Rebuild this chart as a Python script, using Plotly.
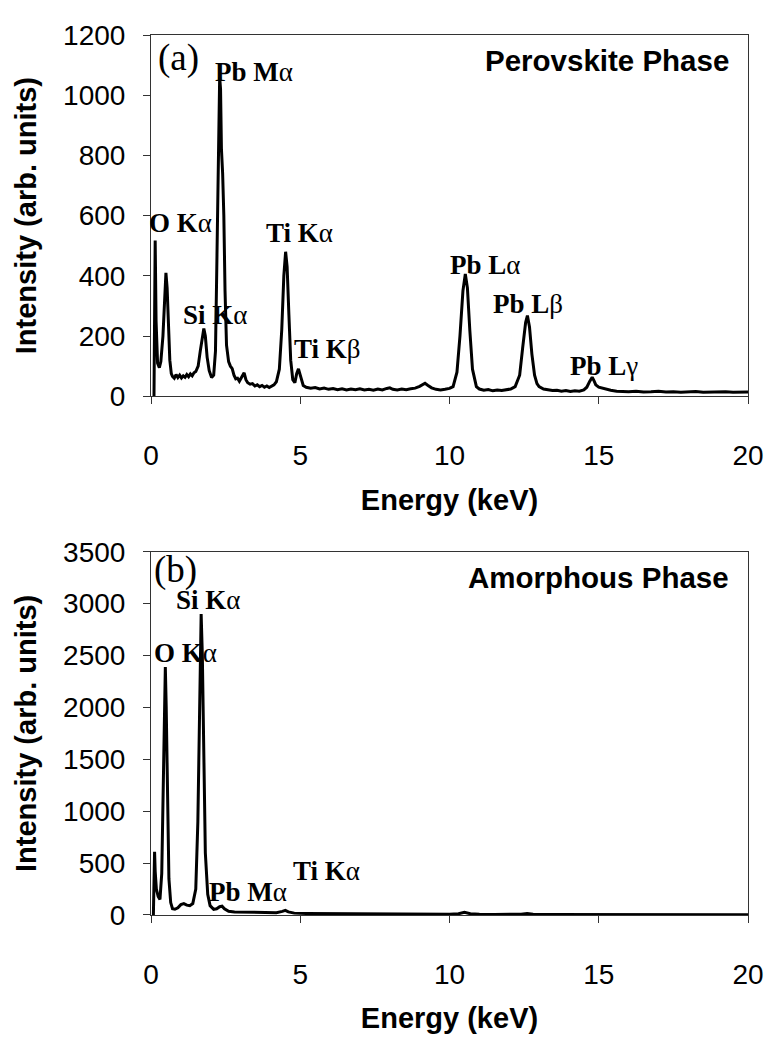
import plotly.graph_objects as go

# ---------------- data ----------------
energy_a = [0.10, 0.12, 0.14, 0.17, 0.22, 0.28, 0.33, 0.40, 0.46, 0.50, 0.54, 0.58, 0.63, 0.68,
            0.72, 0.78, 0.84, 0.90, 0.96, 1.02, 1.08, 1.14, 1.20, 1.26, 1.32, 1.38, 1.44, 1.50,
            1.58, 1.65, 1.72, 1.77, 1.82, 1.88, 1.95, 2.03, 2.10, 2.16, 2.20, 2.25, 2.30, 2.33,
            2.36, 2.40, 2.44, 2.48, 2.53,
            2.60, 2.66, 2.72, 2.78, 2.84, 2.90, 2.96, 3.02, 3.08, 3.12, 3.18, 3.24, 3.32, 3.40,
            3.48, 3.56, 3.64, 3.72, 3.80, 3.88, 3.96, 4.04, 4.12, 4.20,
            4.30, 4.38, 4.45, 4.51, 4.56, 4.62, 4.68, 4.75, 4.82, 4.88, 4.94, 5.00,
            5.10, 5.20, 5.35, 5.50, 5.65, 5.80, 5.95, 6.10, 6.25, 6.40, 6.55, 6.70, 6.85, 7.00,
            7.15, 7.30, 7.45, 7.60, 7.75, 7.90, 8.00, 8.10, 8.25, 8.40, 8.55, 8.70, 8.85, 9.00,
            9.10, 9.18, 9.28, 9.40, 9.55, 9.70, 9.85, 10.00, 10.12,
            10.25, 10.35, 10.45, 10.53, 10.60, 10.68, 10.77,
            10.90, 11.00, 11.15, 11.30, 11.45, 11.60, 11.75, 11.90, 12.05, 12.20,
            12.35, 12.45, 12.55, 12.61, 12.68, 12.76, 12.85, 12.93,
            13.00, 13.15, 13.30, 13.45, 13.60, 13.75, 13.90, 14.05, 14.20, 14.35, 14.50, 14.60,
            14.70, 14.78, 14.84, 14.90, 15.00, 15.10, 15.25, 15.40, 15.60, 15.80, 16.00, 16.25,
            16.50, 16.75, 17.00, 17.25, 17.50, 17.75, 18.00, 18.25, 18.50, 18.75, 19.00, 19.25,
            19.50, 19.75, 20.00]
intensity_a = [0, 300, 517, 250, 110, 95, 115, 200, 330, 410, 360, 220, 120, 75,
               66, 60, 72, 62, 70, 61, 68, 63, 72, 65, 74, 68, 78, 82,
               100, 150, 205, 225, 200, 130, 85, 62, 70, 150, 400, 800, 1060, 1020,
               820, 740, 600, 350, 170,
               115, 100, 92, 70, 58, 60, 50, 62, 72, 78, 55, 45, 40, 42,
               34, 38, 32, 36, 30, 34, 29, 35, 38, 48,
               90, 220, 400, 480, 430, 270, 120, 55, 45, 75, 91, 70,
               36, 30, 27, 29, 24, 27, 23, 26, 22, 25, 21, 24, 22, 25,
               21, 23, 20, 24, 21, 26, 28, 23, 21, 24, 22, 25, 27, 33,
               40, 43, 36, 28, 23, 21, 23, 26, 32,
               80, 200, 350, 406, 360, 220, 90,
               32, 24, 20, 22, 18, 21, 19, 22, 24, 32,
               70, 160, 245, 268, 230, 140, 70, 42,
               32, 24, 21, 19, 20, 17, 19, 16, 18, 17, 21, 30,
               50, 63, 52, 38, 30, 27, 23, 20, 17, 16, 15, 17,
               14, 15, 17, 14, 15, 13, 14, 16, 13, 14, 13, 15,
               13, 14, 14]

energy_b = [0.08, 0.10, 0.12, 0.14, 0.18, 0.24, 0.30, 0.36, 0.41, 0.45, 0.48, 0.51, 0.55, 0.60,
            0.66, 0.72, 0.80, 0.90, 1.00, 1.10, 1.20, 1.30, 1.40, 1.50, 1.57, 1.63, 1.68, 1.72,
            1.76, 1.82, 1.90, 1.98, 2.10, 2.20, 2.30, 2.38, 2.46, 2.60, 2.80, 3.00, 3.30, 3.60,
            3.90, 4.20, 4.40, 4.50, 4.60, 4.80, 5.20, 5.60, 6.00, 6.50, 7.00, 7.50, 8.00, 8.50,
            9.00, 9.50, 10.00, 10.30, 10.50, 10.70, 11.00, 11.50, 12.00, 12.40, 12.60, 12.80,
            13.20, 14.00, 15.00, 16.00, 17.00, 18.00, 19.00, 20.00]
intensity_b = [0, 350, 610, 420, 250, 180, 150, 400, 1200, 2100, 2390, 2000, 1000, 350,
               120, 60, 55, 70, 100, 110, 95, 90, 110, 250, 900, 2100, 2900, 2500,
               1500, 600, 200, 90, 55, 60, 80, 85, 60, 35, 30, 28, 25, 22,
               20, 22, 35, 45, 30, 18, 15, 14, 12, 12, 10, 10, 9, 9,
               9, 8, 8, 12, 25, 12, 7, 6, 6, 8, 15, 8,
               6, 5, 5, 4, 4, 4, 3, 3]

x_ticks = [0, 5, 10, 15, 20]
y_ticks_a = [0, 200, 400, 600, 800, 1000, 1200]
y_ticks_b = [0, 500, 1000, 1500, 2000, 2500, 3000, 3500]

# peak labels: (text, x, y, xshift)
labels_a = [("Pb M", 2.08, 1076, 0), ("O K", 0.0, 575, -4), ("Si K", 1.02, 271, 0),
            ("Ti K", 3.80, 543, 0), ("Ti K", 4.73, 157, 0), ("Pb L", 9.95, 435, 0),
            ("Pb L", 11.40, 307, 0), ("Pb L", 13.98, 101, 0)]
greek_a = ["α", "α", "α", "α", "β", "α", "β", "γ"]
labels_b = [("Si K", 0.78, 3037, 0), ("O K", 0.02, 2524, 0), ("Pb M", 1.87, 222, 0),
            ("Ti K", 4.70, 420, 0)]
greek_b = ["α", "α", "α", "α"]

# ---------------- figure ----------------
# page body has an 8px margin; figure placed at (8, 8) in the 776x1041 window
OFF = 8
W, H = 776 - OFF, 1041 - OFF
left_px, right_px, top_px, bottom_px = 151, 757, 29, 923   # plot area in window pixels
ml = left_px - OFF
mr = W - (right_px - OFF)
mt = top_px - OFF
mb = H - (bottom_px - OFF)
ph = H - mt - mb
top_dom = [(bottom_px - 396) / ph, 1.0]
bot_dom = [0.0, (bottom_px - 554) / ph]

fig = go.Figure()
line = dict(color="black", width=3)
fig.add_trace(go.Scatter(x=energy_a, y=intensity_a, mode="lines", line=line,
                         xaxis="x", yaxis="y", showlegend=False))
fig.add_trace(go.Scatter(x=energy_b, y=intensity_b, mode="lines", line=line,
                         xaxis="x2", yaxis="y2", showlegend=False))

tickfont = dict(family="Liberation Sans, Arial", size=28, color="black")
titlefont = dict(family="Liberation Sans, Arial", size=29, color="black")

common_x = dict(range=[0, 20], tickvals=x_ticks, ticks="outside", ticklen=7, tickwidth=1,
                tickcolor="#333", showline=True, linecolor="#333", linewidth=1, mirror=True,
                showgrid=False, zeroline=False, tickfont=tickfont, ticklabelstandoff=27)
common_y = dict(ticks="outside", ticklen=7, tickwidth=1, tickcolor="#333",
                showline=True, linecolor="#333", linewidth=1, mirror=True,
                showgrid=False, zeroline=False, tickfont=tickfont, ticklabelstandoff=12)

fig.update_layout(
    width=W, height=H,
    margin=dict(l=ml, r=mr, t=mt, b=mb),
    paper_bgcolor="white", plot_bgcolor="white",
    xaxis=dict(common_x, domain=[0, 1], anchor="y",
               title=dict(text="<b>Energy (keV)</b>", font=titlefont, standoff=19)),
    yaxis=dict(common_y, domain=top_dom, anchor="x", range=[0, 1200], tickvals=y_ticks_a,
               title=dict(text="<b>Intensity (arb. units)</b>", font=titlefont, standoff=17)),
    xaxis2=dict(common_x, domain=[0, 1], anchor="y2",
                title=dict(text="<b>Energy (keV)</b>", font=titlefont, standoff=19)),
    yaxis2=dict(common_y, domain=bot_dom, anchor="x2", range=[0, 3500], tickvals=y_ticks_b,
                title=dict(text="<b>Intensity (arb. units)</b>", font=titlefont, standoff=17)),
)

serif = dict(family="Liberation Serif, Times New Roman", size=27, color="black")

def add_labels(labels, greeks, xref, yref):
    for (txt, x, y, xs), g in zip(labels, greeks):
        fig.add_annotation(x=x, y=y, xref=xref, yref=yref, xanchor="left", yanchor="middle",
                           xshift=xs, text=f"<b>{txt}</b>{g}", showarrow=False, font=serif)

add_labels(labels_a, greek_a, "x", "y")
add_labels(labels_b, greek_b, "x2", "y2")

panel_font = dict(family="Liberation Serif, Times New Roman", size=37, color="black")
fig.add_annotation(x=0.17, y=1125, xref="x", yref="y", xanchor="left", yanchor="middle",
                   text="(a)", showarrow=False, font=panel_font)
fig.add_annotation(x=0.02, y=3322, xref="x2", yref="y2", xanchor="left", yanchor="middle",
                   text="(b)", showarrow=False, font=panel_font)

phase_font = dict(family="Liberation Sans, Arial", size=29.5, color="black")
fig.add_annotation(x=19.44, y=1115, xref="x", yref="y", xanchor="right", yanchor="middle",
                   text="<b>Perovskite Phase</b>", showarrow=False, font=phase_font)
fig.add_annotation(x=19.44, y=3250, xref="x2", yref="y2", xanchor="right", yanchor="middle",
                   text="<b>Amorphous Phase</b>", showarrow=False, font=phase_font)

fig.write_html("out.html")
